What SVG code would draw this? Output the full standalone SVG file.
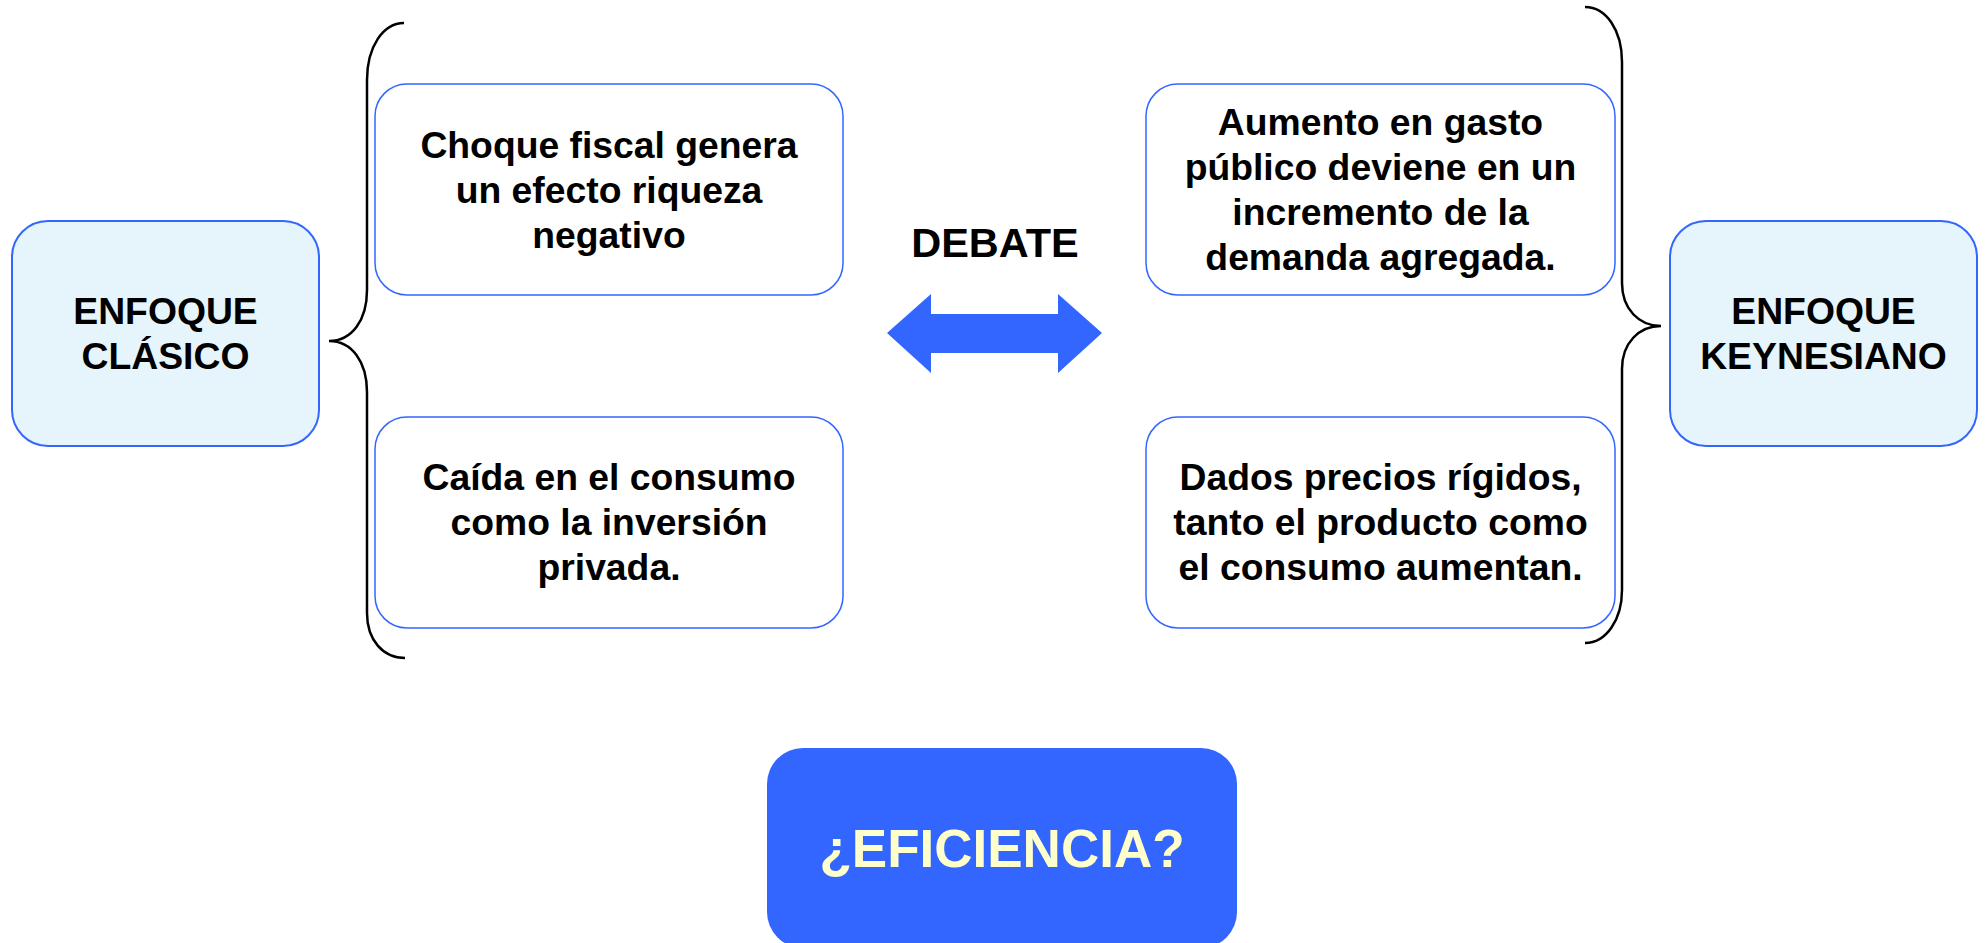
<svg xmlns="http://www.w3.org/2000/svg" width="1987" height="943" viewBox="0 0 1987 943">
<style>
.t{font-family:"Liberation Sans",Arial,sans-serif;font-weight:bold;font-size:37.3px;fill:#000;text-anchor:middle}
.side{fill:#E6F4FB;stroke:#3366FF;stroke-width:2}
.box{fill:#FFFFFF;stroke:#3366FF;stroke-width:1.5}
.brace{fill:none;stroke:#000;stroke-width:2.5}
</style>
<rect width="1987" height="943" fill="#FFFFFF"/>
<g id="connectors">
<path class="brace" d="M404,23 C383,23 367,47 367,80 L367,290 C367,320 352,341 329,341 C352,341 367,362 367,392 L367,613 C367,640 383,658 405,658"/>
<path class="brace" d="M1585,7 C1606,7 1622,30 1622,62 L1622,283 C1622,309 1639,326 1661,326 C1639,326 1622,343 1622,369 L1622,590 C1622,620 1606,643 1585,643"/>
<polygon id="debate-arrow" points="887,333 931,294 931,314 1058,314 1058,294 1102,333 1058,373 1058,353 931,353 931,373" fill="#3366FF"/>
</g>
<g id="clasico">
<rect class="side" x="12" y="221" width="307" height="225" rx="36"/>
<text class="t" x="165.5" y="324">ENFOQUE</text>
<text class="t" x="165.5" y="369">CLÁSICO</text>
</g>
<g id="choque">
<rect class="box" x="375" y="84" width="468" height="211" rx="32"/>
<text class="t" x="609" y="158">Choque fiscal genera</text>
<text class="t" x="609" y="203">un efecto riqueza</text>
<text class="t" x="609" y="248">negativo</text>
</g>
<g id="caida">
<rect class="box" x="375" y="417" width="468" height="211" rx="32"/>
<text class="t" x="609" y="490">Caída en el consumo</text>
<text class="t" x="609" y="535">como la inversión</text>
<text class="t" x="609" y="580">privada.</text>
</g>
<g id="debate">
<text class="t" x="995" y="257" style="font-size:41.5px">DEBATE</text>
</g>
<g id="aumento">
<rect class="box" x="1146" y="84" width="469" height="211" rx="32"/>
<text class="t" x="1380.5" y="135">Aumento en gasto</text>
<text class="t" x="1380.5" y="180">público deviene en un</text>
<text class="t" x="1380.5" y="225">incremento de la</text>
<text class="t" x="1380.5" y="270">demanda agregada.</text>
</g>
<g id="dados">
<rect class="box" x="1146" y="417" width="469" height="211" rx="32"/>
<text class="t" x="1380.5" y="490">Dados precios rígidos,</text>
<text class="t" x="1380.5" y="535">tanto el producto como</text>
<text class="t" x="1380.5" y="580">el consumo aumentan.</text>
</g>
<g id="keynesiano">
<rect class="side" x="1670" y="221" width="307" height="225" rx="36"/>
<text class="t" x="1823.5" y="324">ENFOQUE</text>
<text class="t" x="1823.5" y="369">KEYNESIANO</text>
</g>
<g id="eficiencia">
<rect x="767" y="748" width="470" height="200" rx="36" fill="#3366FF"/>
<text class="t" x="1002" y="867" style="font-size:53px;fill:#FFFFCC">¿EFICIENCIA?</text>
</g>
</svg>
